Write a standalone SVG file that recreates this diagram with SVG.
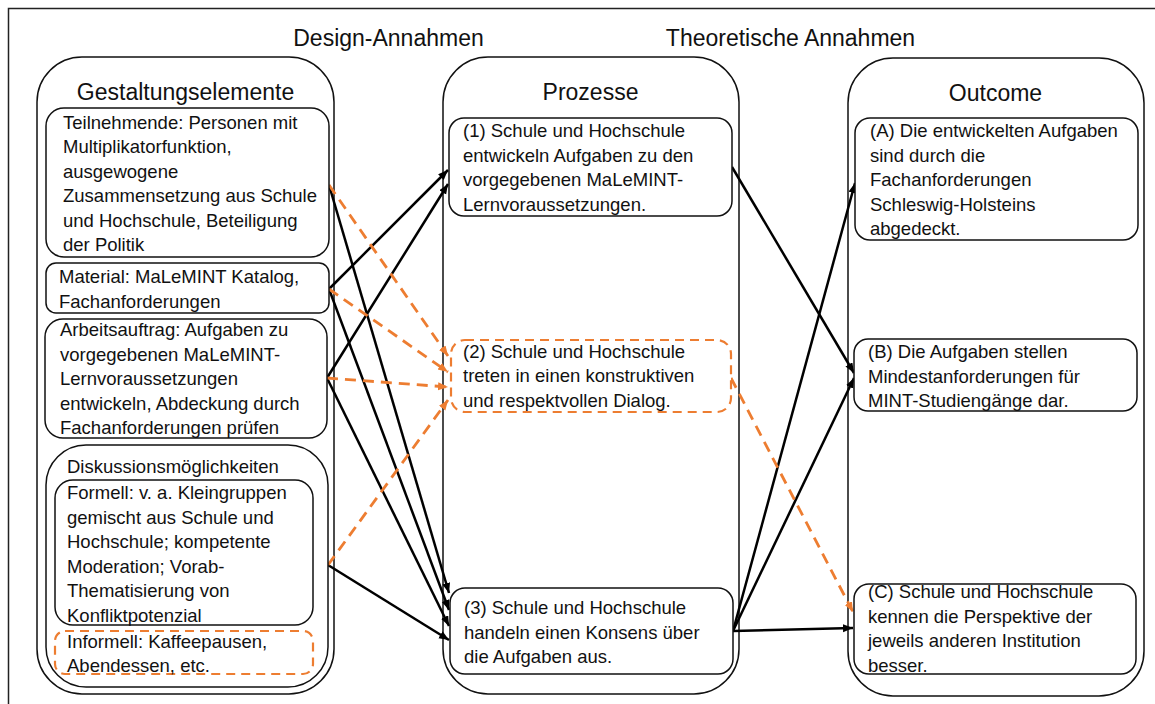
<svg xmlns="http://www.w3.org/2000/svg" width="1155" height="704" viewBox="0 0 1155 704">
<defs>
<style>
text{font-family:"Liberation Sans",Arial,sans-serif;fill:#111}
.t{font-size:18.5px}
.h{font-size:23px;text-anchor:middle}
.cont{fill:#fff;stroke:#111;stroke-width:1.5}
.box{fill:#fff;stroke:#111;stroke-width:1.5}
.obox{fill:#fff;stroke:#ED7D31;stroke-width:2.2;stroke-dasharray:9 6}
.bl{stroke:#000;stroke-width:2.5;fill:none;marker-end:url(#ab)}
.or{stroke:#ED7D31;stroke-width:2.8;fill:none;stroke-dasharray:11 7;marker-end:url(#ao)}
</style>
<marker id="ab" markerUnits="userSpaceOnUse" markerWidth="12" markerHeight="10" refX="10" refY="4" orient="auto"><path d="M0,0 L10,4 L0,8 z" fill="#000"/></marker>
<marker id="ao" markerUnits="userSpaceOnUse" markerWidth="12" markerHeight="10" refX="10" refY="4" orient="auto"><path d="M0,0 L10,4 L0,8 z" fill="#ED7D31"/></marker>
</defs>
<rect x="0" y="0" width="1155" height="704" fill="#fff"/>
<rect x="8.5" y="8.5" width="1160" height="710" fill="none" stroke="#222" stroke-width="1.5"/>
<text class="h" x="388.5" y="46">Design-Annahmen</text>
<text class="h" x="790.5" y="46">Theoretische Annahmen</text>

<g id="container-gestaltungselemente">
<rect class="cont" x="37" y="57" width="297" height="637" rx="45"/>
<text class="h" x="185.5" y="100">Gestaltungselemente</text>
</g>
<g id="container-prozesse">
<rect class="cont" x="443" y="57" width="296" height="637" rx="45"/>
<text class="h" x="590.5" y="100">Prozesse</text>
</g>
<g id="container-outcome">
<rect class="cont" x="848" y="58" width="296" height="638" rx="45"/>
<text class="h" x="995.5" y="101">Outcome</text>
</g>

<g id="connectors">
<line class="bl" x1="329" y1="185" x2="449" y2="593"/>
<line class="bl" x1="329" y1="289" x2="448" y2="170"/>
<line class="bl" x1="329" y1="289" x2="449" y2="610"/>
<line class="bl" x1="327" y1="378" x2="448" y2="184"/>
<line class="bl" x1="327" y1="378" x2="449" y2="626"/>
<line class="bl" x1="328" y1="565" x2="449" y2="640"/>
<line class="bl" x1="732" y1="167" x2="854" y2="373"/>
<line class="bl" x1="733" y1="631" x2="855" y2="183"/>
<line class="bl" x1="733" y1="631" x2="854" y2="378"/>
<line class="bl" x1="733" y1="631" x2="853" y2="628"/>
<line class="or" x1="329" y1="185" x2="448" y2="356"/>
<line class="or" x1="329" y1="289" x2="448" y2="372"/>
<line class="or" x1="327" y1="378" x2="448" y2="387"/>
<line class="or" x1="328" y1="565" x2="448" y2="400"/>
<line class="or" x1="731" y1="378" x2="853" y2="612"/>
</g>

<g id="node-teilnehmende">
<rect class="box" x="46" y="108" width="283" height="149" rx="18"/>
<text class="t" x="63" y="128.5">Teilnehmende: Personen mit</text>
<text class="t" x="63" y="153">Multiplikatorfunktion,</text>
<text class="t" x="63" y="177.5">ausgewogene</text>
<text class="t" x="63" y="202">Zusammensetzung aus Schule</text>
<text class="t" x="63" y="226.5">und Hochschule, Beteiligung</text>
<text class="t" x="63" y="251">der Politik</text>
</g>
<g id="node-material">
<rect class="box" x="46" y="263" width="283" height="50" rx="10"/>
<text class="t" x="59" y="283">Material: MaLeMINT Katalog,</text>
<text class="t" x="59" y="307.5">Fachanforderungen</text>
</g>
<g id="node-arbeitsauftrag">
<rect class="box" x="45" y="319" width="282" height="119" rx="18"/>
<text class="t" x="60" y="336">Arbeitsauftrag: Aufgaben zu</text>
<text class="t" x="60" y="360.5">vorgegebenen MaLeMINT-</text>
<text class="t" x="60" y="385">Lernvoraussetzungen</text>
<text class="t" x="60" y="409.5">entwickeln, Abdeckung durch</text>
<text class="t" x="60" y="434">Fachanforderungen prüfen</text>
</g>
<g id="node-diskussion">
<rect class="box" x="46" y="445" width="282" height="242" rx="40"/>
<text class="t" x="67" y="473">Diskussionsmöglichkeiten</text>
</g>
<g id="node-formell">
<rect class="box" x="55" y="480" width="258" height="145" rx="18"/>
<text class="t" x="67" y="499.3">Formell: v. a. Kleingruppen</text>
<text class="t" x="67" y="523.8">gemischt aus Schule und</text>
<text class="t" x="67" y="548.3">Hochschule; kompetente</text>
<text class="t" x="67" y="572.8">Moderation; Vorab-</text>
<text class="t" x="67" y="597.3">Thematisierung von</text>
<text class="t" x="67" y="621.8">Konfliktpotenzial</text>
</g>
<g id="node-informell">
<rect class="obox" x="55" y="631" width="258" height="43" rx="10"/>
<text class="t" x="67" y="648.3">Informell: Kaffeepausen,</text>
<text class="t" x="67" y="672.3">Abendessen, etc.</text>
</g>

<g id="node-p1">
<rect class="box" x="449" y="118" width="283" height="98" rx="15"/>
<text class="t" x="463" y="137">(1) Schule und Hochschule</text>
<text class="t" x="463" y="161.5">entwickeln Aufgaben zu den</text>
<text class="t" x="463" y="186">vorgegebenen MaLeMINT-</text>
<text class="t" x="463" y="210.5">Lernvoraussetzungen.</text>
</g>
<g id="node-p2">
<rect class="obox" x="451" y="340" width="280" height="72" rx="14"/>
<text class="t" x="463" y="357.5">(2) Schule und Hochschule</text>
<text class="t" x="463" y="382">treten in einen konstruktiven</text>
<text class="t" x="463" y="406.5">und respektvollen Dialog.</text>
</g>
<g id="node-p3">
<rect class="box" x="450" y="588" width="283" height="86" rx="15"/>
<text class="t" x="464" y="614">(3) Schule und Hochschule</text>
<text class="t" x="464" y="638.5">handeln einen Konsens über</text>
<text class="t" x="464" y="663">die Aufgaben aus.</text>
</g>

<g id="node-oa">
<rect class="box" x="855" y="118" width="283" height="122" rx="15"/>
<text class="t" x="870" y="137">(A) Die entwickelten Aufgaben</text>
<text class="t" x="870" y="161.5">sind durch die</text>
<text class="t" x="870" y="186">Fachanforderungen</text>
<text class="t" x="870" y="210.5">Schleswig-Holsteins</text>
<text class="t" x="870" y="235">abgedeckt.</text>
</g>
<g id="node-ob">
<rect class="box" x="854" y="339" width="283" height="72" rx="14"/>
<text class="t" x="868" y="358.3">(B) Die Aufgaben stellen</text>
<text class="t" x="868" y="382.8">Mindestanforderungen für</text>
<text class="t" x="868" y="407.3">MINT-Studiengänge dar.</text>
</g>
<g id="node-oc">
<rect class="box" x="854" y="584" width="282" height="90" rx="15"/>
<text class="t" x="868" y="598.3">(C) Schule und Hochschule</text>
<text class="t" x="868" y="622.8">kennen die Perspektive der</text>
<text class="t" x="868" y="647.3">jeweils anderen Institution</text>
<text class="t" x="868" y="671.8">besser.</text>
</g>
</svg>
